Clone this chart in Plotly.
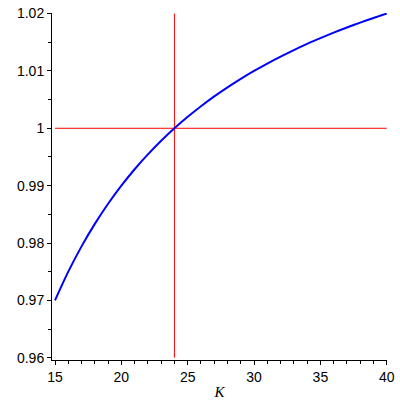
import plotly.graph_objects as go

K = [15, 16, 17, 18, 19, 20, 21, 22, 23, 24, 25, 26, 27, 28, 29, 30,
     31, 32, 33, 34, 35, 36, 37, 38, 39, 40]
ratio = [0.97000, 0.97500, 0.97941, 0.98333, 0.98684, 0.99000, 0.99286,
         0.99545, 0.99783, 1.00000, 1.00200, 1.00385, 1.00556, 1.00714,
         1.00862, 1.01000, 1.01129, 1.01250, 1.01364, 1.01471, 1.01571,
         1.01667, 1.01757, 1.01842, 1.01923, 1.02000]

ref_K = 24
ref_level = 1.0
x_span = [15, 40]
y_span = [0.96, 1.02]
x_ticks = [15, 20, 25, 30, 35, 40]
y_ticks = [0.96, 0.97, 0.98, 0.99, 1.0, 1.01, 1.02]
y_ticktext = ["0.96", "0.97", "0.98", "0.99", "1", "1.01", "1.02"]

fig = go.Figure()
fig.add_trace(go.Scatter(x=x_span, y=[ref_level, ref_level], mode="lines",
                         line=dict(color="#ff0000", width=1), hoverinfo="skip"))
fig.add_trace(go.Scatter(x=[ref_K, ref_K], y=y_span, mode="lines",
                         line=dict(color="#ff0000", width=1), hoverinfo="skip"))
fig.add_trace(go.Scatter(x=K, y=ratio, mode="lines",
                         line=dict(color="#0000ff", width=2, shape="spline", smoothing=0.8)))

tickfont = dict(family="Liberation Sans, Arial, sans-serif", size=14, color="black")

fig.update_layout(
    width=400, height=400,
    margin=dict(l=52, r=13, t=13, b=40),
    paper_bgcolor="white", plot_bgcolor="white",
    showlegend=False,
    xaxis=dict(
        range=[14.773, 40.02], showgrid=False, zeroline=False, automargin=False,
        showline=True, linecolor="black", linewidth=1,
        tickmode="array", tickvals=x_ticks, ticktext=[str(v) for v in x_ticks],
        ticks="outside", ticklen=4, tickcolor="black", tickfont=tickfont,
        minor=dict(dtick=1, ticks="outside", ticklen=3, tickcolor="black", showgrid=False),
        title=dict(text="K", font=dict(family="Liberation Serif, Times New Roman, serif",
                                      size=15, color="black", style="italic"), standoff=2),
    ),
    yaxis=dict(
        range=[0.9596, 1.0201], showgrid=False, zeroline=False, automargin=False,
        showline=True, linecolor="black", linewidth=1,
        tickmode="array", tickvals=y_ticks, ticktext=y_ticktext,
        ticks="outside", ticklen=4, tickcolor="black", tickfont=tickfont,
        minor=dict(dtick=0.005, tick0=0.96, ticks="outside", ticklen=3, tickcolor="black", showgrid=False),
    ),
)

fig.write_html("out.html", config={"displayModeBar": False},
               post_script="document.body.style.margin='0';document.body.style.overflow='hidden';")
